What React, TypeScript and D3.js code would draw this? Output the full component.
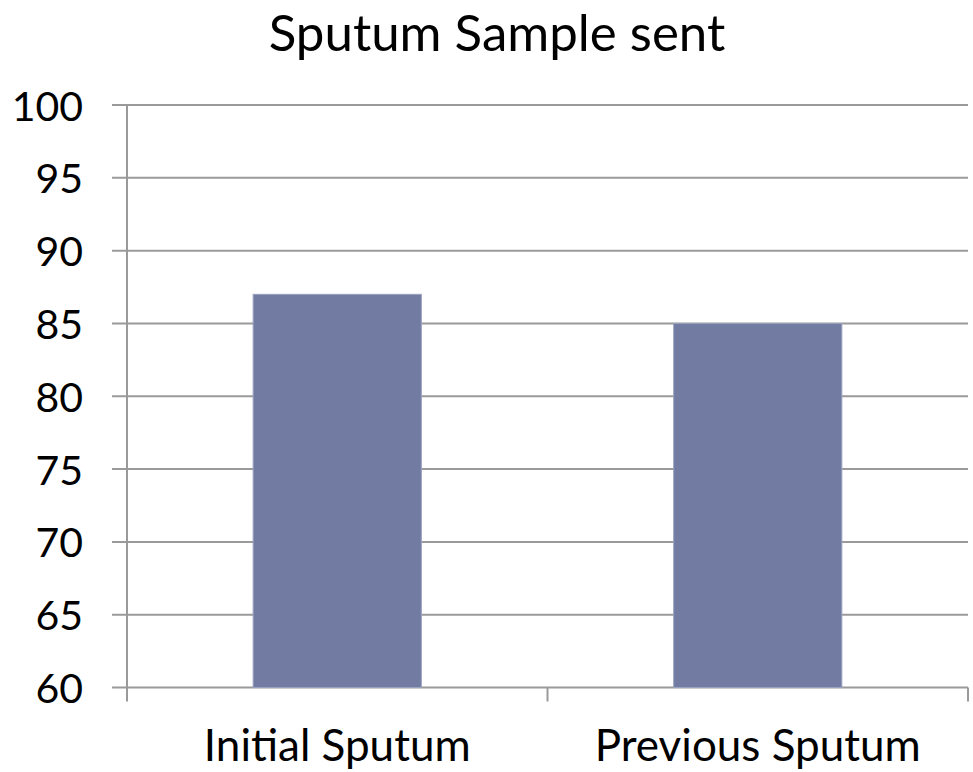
import React from 'react'
import * as d3 from 'd3'

const categories = ['Initial Sputum', 'Previous Sputum']
const values = [87, 85]
const yTicks = [60, 65, 70, 75, 80, 85, 90, 95, 100]
const title = 'Sputum Sample sent'

const width = 973
const height = 772
const margin = { top: 105, right: 5, bottom: 84.5, left: 127 }
const font = 'Lato, "Open Sans", sans-serif'

export default function App() {
  const x = d3.scaleBand<string>()
    .domain(categories)
    .range([margin.left, width - margin.right])
    .paddingInner(0.6)
    .paddingOuter(0.3)
  const y = d3.scaleLinear()
    .domain([60, 100])
    .range([height - margin.bottom, margin.top])

  const step = (width - margin.right - margin.left) / categories.length
  const catEdges = d3.range(categories.length + 1).map(i => margin.left + i * step)
  const grid = '#9a9a9a'

  return (
    <svg width={width} height={height} viewBox={`0 0 ${width} ${height}`}
      style={{ position: 'absolute', left: 0, top: 0, background: '#fff' }}>
      <text x={497} y={51} textAnchor='middle' fontFamily={font} fontSize={51} fill='#000'>
        {title}
      </text>
      {yTicks.map(t => (
        <g key={t}>
          <line x1={112} x2={width - margin.right} y1={y(t)} y2={y(t)} stroke={grid} strokeWidth={2} />
          <text x={83} y={y(t)} dy='0.38em' textAnchor='end' fontFamily={font} fontSize={41} fill='#000'>
            {t}
          </text>
        </g>
      ))}
      {categories.map((c, i) => (
        <rect key={c} x={x(c)} y={y(values[i])} width={x.bandwidth()}
          height={y(60) - y(values[i])} fill='#727ca3' stroke='#9aa2c0' strokeWidth={1} />
      ))}
      <line x1={margin.left} x2={margin.left} y1={margin.top} y2={y(60)} stroke={grid} strokeWidth={2} />
      {catEdges.map((e, i) => (
        <line key={i} x1={e} x2={e} y1={y(60)} y2={y(60) + 14} stroke={grid} strokeWidth={2} />
      ))}
      {categories.map(c => (
        <text key={c} x={(x(c) ?? 0) + x.bandwidth() / 2} y={761} textAnchor='middle'
          fontFamily={font} fontSize={44} fill='#000'>
          {c}
        </text>
      ))}
    </svg>
  )
}
